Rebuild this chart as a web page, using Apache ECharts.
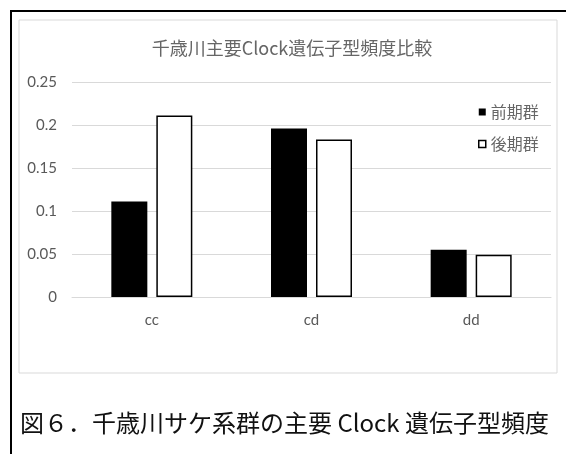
<!DOCTYPE html>
<html>
<head>
<meta charset="utf-8">
<script src="https://cdn.jsdelivr.net/npm/echarts@6/dist/echarts.min.js"></script>
<style>
  html, body { margin: 0; padding: 0; background: #fff; }
  #chart { width: 566px; height: 454px; }
</style>
</head>
<body>
<div id="chart"></div>
<script>
// Genotype categories and frequencies for the two run groups
const categories = ['cc', 'cd', 'dd'];
const earlyGroup = [0.111, 0.196, 0.055];   // 前期群
const lateGroup = [0.211, 0.183, 0.049];    // 後期群
const seriesNames = ['前期群', '後期群'];
const yMin = 0;
const yMax = 0.25;
const yStep = 0.05;

const chartTitle = '千歳川主要Clock遺伝子型頻度比較';
const caption = '図６．千歳川サケ系群の主要 Clock 遺伝子型頻度';

const latinFont = 'Lato, "Noto Sans", sans-serif';
const cjkFont = '"Noto Sans CJK JP", "Noto Sans", sans-serif';
const grey = '#595959';

const chart = echarts.init(document.getElementById('chart'), null, { renderer: 'canvas' });

chart.setOption({
  animation: false,
  backgroundColor: '#fff',
  grid: { left: 72, right: 15, top: 82, bottom: 157, containLabel: false },
  legend: {
    orient: 'vertical',
    left: 473,
    top: 99,
    itemWidth: 7,
    itemHeight: 7,
    itemGap: 16,
    icon: 'rect',
    textStyle: { fontFamily: cjkFont, fontSize: 16, color: '#666' },
    data: [
      { name: seriesNames[0], itemStyle: { color: '#000' } },
      { name: seriesNames[1], itemStyle: { color: '#fff', borderColor: '#000', borderWidth: 1.5 } }
    ]
  },
  xAxis: {
    type: 'category',
    data: categories,
    axisLine: { show: true, lineStyle: { color: '#d9d9d9', width: 1 } },
    axisTick: { show: false },
    axisLabel: { margin: 16, fontFamily: latinFont, fontSize: 15, color: grey }
  },
  yAxis: {
    type: 'value',
    min: yMin,
    max: yMax,
    interval: yStep,
    axisLine: { show: false },
    axisTick: { show: false },
    splitLine: { lineStyle: { color: '#d9d9d9', width: 1 } },
    axisLabel: { margin: 15, fontFamily: latinFont, fontSize: 15, color: grey }
  },
  series: [
    {
      name: seriesNames[0],
      type: 'bar',
      data: earlyGroup,
      barWidth: 36,
      barGap: '25%',
      itemStyle: { color: '#000' }
    },
    {
      name: seriesNames[1],
      type: 'bar',
      data: lateGroup,
      barWidth: 36,
      barGap: '25%',
      itemStyle: { color: '#fff', borderColor: '#000', borderWidth: 1.5 }
    }
  ],
  graphic: [
    // outer page frame (top and left edges visible)
    {
      type: 'rect', silent: true, z: 0,
      shape: { x: 11, y: 11, width: 700, height: 600 },
      style: { fill: 'none', stroke: '#000', lineWidth: 2 }
    },
    // chart area border
    {
      type: 'rect', silent: true, z: 0,
      shape: { x: 19, y: 20, width: 538, height: 353 },
      style: { fill: 'none', stroke: '#d9d9d9', lineWidth: 1 }
    },
    {
      type: 'text', silent: true, z: 10,
      style: {
        x: 292, y: 48, text: chartTitle,
        textAlign: 'center', textVerticalAlign: 'middle',
        font: '18px ' + cjkFont, fill: '#666'
      }
    },
    {
      type: 'text', silent: true, z: 10,
      style: {
        x: 20, y: 423, text: caption,
        textAlign: 'left', textVerticalAlign: 'middle',
        font: '24px ' + cjkFont, fill: '#111'
      }
    }
  ]
});
</script>
</body>
</html>
